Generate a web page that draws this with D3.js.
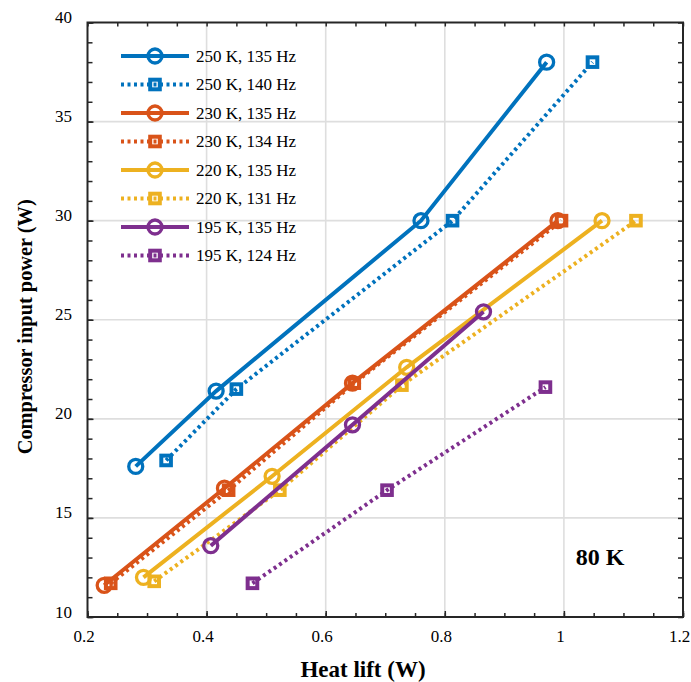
<!DOCTYPE html>
<html lang="en">
  <head>
    <meta charset="UTF-8" />
    <title>Heat lift vs compressor input power</title>
    <style>
      body { margin: 0; background: #fff; }
      svg text { font-family: "Liberation Serif", "Times New Roman", serif; fill: #000; }
    </style>
  </head>
  <body>
    <svg id="svg" width="691" height="682"></svg>
    <script src="https://d3js.org/d3.v7.min.js"></script>
    <script>
      // data
      const seriesNames = ["250 K, 135 Hz", "250 K, 140 Hz", "230 K, 135 Hz", "230 K, 134 Hz",
                           "220 K, 135 Hz", "220 K, 131 Hz", "195 K, 135 Hz", "195 K, 124 Hz"];
      const colors = ["#0072BD", "#0072BD", "#D95319", "#D95319", "#EDB120", "#EDB120", "#7E2F8E", "#7E2F8E"];
      const markers = ["circle", "square", "circle", "square", "circle", "square", "circle", "square"];

      const heatLift = [
        [0.281, 0.416, 0.760, 0.971],
        [0.332, 0.450, 0.813, 1.048],
        [0.228, 0.430, 0.645, 0.990],
        [0.239, 0.437, 0.648, 0.996],
        [0.294, 0.510, 0.736, 1.064],
        [0.312, 0.523, 0.728, 1.121],
        [0.407, 0.645, 0.865],
        [0.477, 0.703, 0.969]
      ];
      const inputPower = [
        [17.6, 21.4, 30.0, 38.0],
        [17.9, 21.5, 30.0, 38.0],
        [11.6, 16.5, 21.8, 30.0],
        [11.7, 16.4, 21.8, 30.0],
        [12.0, 17.1, 22.6, 30.0],
        [11.8, 16.4, 21.7, 30.0],
        [13.6, 19.7, 25.4],
        [11.7, 16.4, 21.6]
      ];
      const xTicks = [0.2, 0.4, 0.6, 0.8, 1, 1.2];
      const yTicks = [10, 15, 20, 25, 30, 35, 40];

      const pLeft = 87.5, pRight = 683, pTop = 22.5, pBottom = 617;
      const svg = d3.select("#svg");

      const x = d3.scaleLinear().domain([0.2, 1.2]).range([pLeft, pRight]);
      const y = d3.scaleLinear().domain([10, 40]).range([pBottom, pTop]);

      // grid
      svg.append("g").selectAll("line").data(xTicks.slice(1, -1)).enter().append("line")
        .attr("x1", d => x(d)).attr("x2", d => x(d))
        .attr("y1", pTop).attr("y2", pBottom)
        .attr("stroke", "#dedede").attr("stroke-width", 1.6);
      svg.append("g").selectAll("line").data(yTicks.slice(1, -1)).enter().append("line")
        .attr("x1", pLeft).attr("x2", pRight)
        .attr("y1", d => y(d)).attr("y2", d => y(d))
        .attr("stroke", "#dedede").attr("stroke-width", 1.6);

      function drawMarkers(g, pts, i) {
        if (markers[i] === "circle") {
          g.selectAll("circle").data(pts).enter().append("circle")
            .attr("cx", d => x(d[0])).attr("cy", d => y(d[1]))
            .attr("r", 7)
            .attr("fill", "none").attr("stroke", colors[i]).attr("stroke-width", 3.3);
        } else {
          g.selectAll("rect").data(pts).enter().append("rect")
            .attr("x", d => x(d[0]) - 4.8).attr("y", d => y(d[1]) - 4.8)
            .attr("width", 9.6).attr("height", 9.6)
            .attr("fill", "none").attr("stroke", colors[i]).attr("stroke-width", 4);
        }
      }

      // lines
      const line = d3.line().x(d => x(d[0])).y(d => y(d[1]));
      seriesNames.forEach((name, i) => {
        const pts = heatLift[i].map((v, j) => [v, inputPower[i][j]]);
        const g = svg.append("g");
        g.append("path").datum(pts)
          .attr("d", line)
          .attr("fill", "none")
          .attr("stroke", colors[i])
          .attr("stroke-width", 4)
          .attr("stroke-dasharray", markers[i] === "square" ? "3,3.5" : null);
        drawMarkers(g, pts, i);
      });

      // axes (ticks point inward, on all four sides)
      const axisStyle = g => {
        g.select(".domain").remove();
        g.selectAll("line").attr("stroke", "#262626").attr("stroke-width", 1.5);
        g.selectAll("text").attr("font-size", 17).attr("font-family", "Liberation Serif, serif")
          .attr("fill", "#262626");
      };
      const xMinor = d3.range(0.2, 1.2001, 0.05);
      const yMinor = d3.range(10, 40.001, 1);

      svg.append("g").attr("transform", `translate(0,${pBottom})`)
        .call(d3.axisBottom(x).tickValues(xMinor).tickSize(-4).tickFormat(""))
        .call(axisStyle);
      svg.append("g").attr("transform", `translate(0,${pBottom})`)
        .call(d3.axisBottom(x).tickValues(xTicks).tickSize(-6).tickPadding(13).tickFormat(d3.format("")))
        .call(axisStyle)
        .call(g => g.selectAll("text").attr("dx", -4));
      svg.append("g").attr("transform", `translate(0,${pTop})`)
        .call(d3.axisTop(x).tickValues(xMinor).tickSize(-4).tickFormat(""))
        .call(axisStyle);
      svg.append("g").attr("transform", `translate(${pLeft},0)`)
        .call(d3.axisLeft(y).tickValues(yMinor).tickSize(-5).tickFormat(""))
        .call(axisStyle);
      svg.append("g").attr("transform", `translate(${pLeft},0)`)
        .call(d3.axisLeft(y).tickValues(yTicks).tickSize(-6).tickPadding(15.5))
        .call(axisStyle)
        .call(g => g.selectAll("text").attr("dy", 0));
      svg.append("g").attr("transform", `translate(${pRight},0)`)
        .call(d3.axisRight(y).tickValues(yMinor).tickSize(-5).tickFormat(""))
        .call(axisStyle);

      svg.append("rect")
        .attr("x", pLeft).attr("y", pTop)
        .attr("width", pRight - pLeft).attr("height", pBottom - pTop)
        .attr("fill", "none").attr("stroke", "#262626").attr("stroke-width", 2);

      // legend
      const legend = svg.append("g");
      seriesNames.forEach((name, i) => {
        const ly = 56 + i * 28.5;
        const g = legend.append("g");
        g.append("line")
          .attr("x1", 121).attr("x2", 189).attr("y1", ly).attr("y2", ly)
          .attr("stroke", colors[i]).attr("stroke-width", 4)
          .attr("stroke-dasharray", markers[i] === "square" ? "3,3.5" : null);
        drawMarkers(g, [[x.invert(155), y.invert(ly)]], i);
        g.append("text").attr("x", 196).attr("y", ly).attr("dy", "0.33em")
          .attr("font-size", 17).text(name);
      });

      svg.append("text").attr("x", 600).attr("y", 557).attr("dy", "0.35em")
        .attr("text-anchor", "middle").attr("font-size", 24).attr("font-weight", "bold")
        .text("80 K");

      svg.append("text").attr("x", 363).attr("y", 669).attr("dy", "0.35em")
        .attr("text-anchor", "middle").attr("font-size", 23).attr("font-weight", "bold")
        .attr("fill", "#262626")
        .text("Heat lift (W)");
      svg.append("text")
        .attr("transform", `translate(25,${(pTop + pBottom) / 2 + 7}) rotate(-90)`)
        .attr("dy", "0.35em")
        .attr("text-anchor", "middle").attr("font-size", 21).attr("font-weight", "bold")
        .attr("textLength", 255).attr("lengthAdjust", "spacingAndGlyphs")
        .attr("fill", "#262626")
        .text("Compressor input power (W)");
    </script>
  </body>
</html>
